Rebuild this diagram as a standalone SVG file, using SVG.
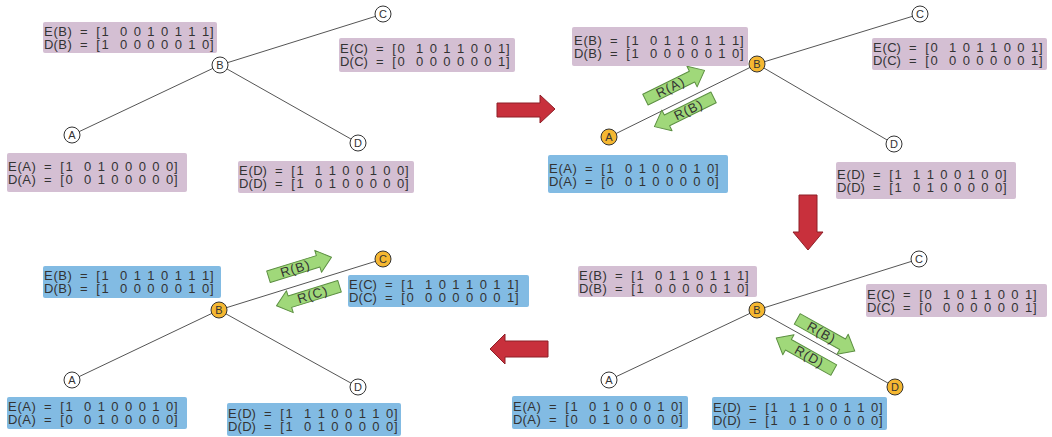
<svg xmlns="http://www.w3.org/2000/svg" width="1052" height="437" viewBox="0 0 1052 437">
<style>
.bg{fill:#ffffff}
.bp{fill:#d4bfd3}
.bb{fill:#82bbe3}
.t{font-family:"Liberation Sans",Arial,sans-serif;font-size:13px;fill:#333}
.node circle{fill:#fff;stroke:#333;stroke-width:1}
.node.on circle{fill:#f5b731}
.nl{font-family:"Liberation Sans",Arial,sans-serif;font-size:11px;text-anchor:middle;fill:#333}
.edge line{stroke:#555;stroke-width:1}
.ga use{fill:#a0d87a;stroke:#5c8f42;stroke-width:1;stroke-linejoin:round}
.ga text{font-family:"Liberation Sans",Arial,sans-serif;font-size:13px;fill:#333;letter-spacing:1px;text-anchor:middle}
.red{fill:#c8303c;stroke:#8e1f27;stroke-width:1;stroke-linejoin:round}
</style>
<defs>
<path id="ar" d="M-33,-6 H19 V-11.5 L33,0 L19,11.5 V6 H-33 Z"/>
<path id="al" d="M33,-6 H-19 V-11.5 L-33,0 L-19,11.5 V6 H33 Z"/>
</defs>
<rect class="bg" width="1052" height="437"/>

<g id="connectors">
<g class="edge">
<line x1="220" y1="65" x2="72" y2="135"/><line x1="220" y1="65" x2="383" y2="14"/><line x1="220" y1="65" x2="358" y2="143"/>
<line x1="757" y1="64" x2="609" y2="137"/><line x1="757" y1="64" x2="920" y2="14"/><line x1="757" y1="64" x2="894" y2="144"/>
<line x1="757" y1="310" x2="609" y2="380"/><line x1="757" y1="310" x2="919" y2="259"/><line x1="757" y1="310" x2="895" y2="387"/>
<line x1="219" y1="310" x2="72" y2="380"/><line x1="219" y1="310" x2="383" y2="259"/><line x1="219" y1="310" x2="358" y2="387"/>
</g>
<path class="red" d="M497,103 H540 V95 L555,109 L540,123 V117 H497 Z"/>
<path class="red" d="M799,195 V232 H793 L808,250 L823,232 H817 V195 Z"/>
<path class="red" d="M548,341 V357 H505 V364 L490,349 L505,334 V341 Z"/>
<g class="ga" transform="translate(675,85) rotate(-26.3)"><use href="#ar"/><text x="-5" y="4.5">R(A)</text></g>
<g class="ga" transform="translate(684,112) rotate(-26.3)"><use href="#al"/><text x="5" y="4.5">R(B)</text></g>
<g class="ga" transform="translate(826,335) rotate(29.2)"><use href="#ar"/><text x="-5" y="4.5">R(B)</text></g>
<g class="ga" transform="translate(805,354) rotate(29.2)"><use href="#al"/><text x="5" y="4.5">R(D)</text></g>
<g class="ga" transform="translate(300,267) rotate(-17.3)"><use href="#ar"/><text x="-5" y="4.5">R(B)</text></g>
<g class="ga" transform="translate(308,296) rotate(-17.3)"><use href="#al"/><text x="5" y="4.5">R(C)</text></g>
</g>

<!-- Panel 1 -->
<g id="p1-B" class="node"><g transform="translate(43,22)"><rect class="bp" width="174" height="31" rx="2"/><text class="t" x="1.1 10.5 15.2 24.6 30.2 37.05 44.3 53.15 58.4 68 77 84 90.7 97.5 104.3 111 118 125 131.7 138.5 145.3 152 159 167" y="13.5">E(B) = [1 0 0 1 0 1 1 1]</text><text class="t" x="1.1 10.5 15.2 24.6 30.2 37.05 44.3 53.15 58.4 68 77 84 90.7 97.5 104.3 111 118 125 131.7 138.5 145.3 152 159 167" y="26.5">D(B) = [1 0 0 0 0 0 1 0]</text></g><circle cx="220" cy="65" r="8"/><text class="nl" x="220" y="69">B</text></g>
<g id="p1-C" class="node"><g transform="translate(339,38)"><rect class="bp" width="176" height="34" rx="2"/><text class="t" x="1.1 10.5 15.2 24.6 30.2 37.05 44.3 53.15 58.4 68 77 84 90.7 97.5 104.3 111 118 125 131.7 138.5 145.3 152 159 167" y="15">E(C) = [0 1 0 1 1 0 0 1]</text><text class="t" x="1.1 10.5 15.2 24.6 30.2 37.05 44.3 53.15 58.4 68 77 84 90.7 97.5 104.3 111 118 125 131.7 138.5 145.3 152 159 167" y="28">D(C) = [0 0 0 0 0 0 0 1]</text></g><circle cx="383" cy="14" r="8"/><text class="nl" x="383" y="18">C</text></g>
<g id="p1-A" class="node"><g transform="translate(7,153)"><rect class="bp" width="180" height="39" rx="2"/><text class="t" x="1.1 10.5 15.2 24.6 30.2 37.05 44.3 53.15 58.4 68 77 84 90.7 97.5 104.3 111 118 125 131.7 138.5 145.3 152 159 167" y="18">E(A) = [1 0 1 0 0 0 0 0]</text><text class="t" x="1.1 10.5 15.2 24.6 30.2 37.05 44.3 53.15 58.4 68 77 84 90.7 97.5 104.3 111 118 125 131.7 138.5 145.3 152 159 167" y="31">D(A) = [0 0 1 0 0 0 0 0]</text></g><circle cx="72" cy="135" r="8"/><text class="nl" x="72" y="139">A</text></g>
<g id="p1-D" class="node"><g transform="translate(238,161)"><rect class="bp" width="176" height="32" rx="2"/><text class="t" x="1.1 10.5 15.2 24.6 30.2 37.05 44.3 53.15 58.4 68 77 84 90.7 97.5 104.3 111 118 125 131.7 138.5 145.3 152 159 167" y="14">E(D) = [1 1 1 0 0 1 0 0]</text><text class="t" x="1.1 10.5 15.2 24.6 30.2 37.05 44.3 53.15 58.4 68 77 84 90.7 97.5 104.3 111 118 125 131.7 138.5 145.3 152 159 167" y="27">D(D) = [1 0 1 0 0 0 0 0]</text></g><circle cx="358" cy="143" r="8"/><text class="nl" x="358" y="147">D</text></g>

<!-- Panel 2 -->
<g id="p2-B" class="node on"><g transform="translate(573,27)"><rect class="bp" x="-1" width="176" height="39" rx="2"/><text class="t" x="1.1 10.5 15.2 24.6 30.2 37.05 44.3 53.15 58.4 68 77 84 90.7 97.5 104.3 111 118 125 131.7 138.5 145.3 152 159 167" y="18">E(B) = [1 0 1 1 0 1 1 1]</text><text class="t" x="1.1 10.5 15.2 24.6 30.2 37.05 44.3 53.15 58.4 68 77 84 90.7 97.5 104.3 111 118 125 131.7 138.5 145.3 152 159 167" y="31">D(B) = [1 0 0 0 0 0 1 0]</text></g><circle cx="757" cy="64" r="8"/><text class="nl" x="757" y="68">B</text></g>
<g id="p2-C" class="node"><g transform="translate(872,38)"><rect class="bp" width="175" height="32" rx="2"/><text class="t" x="1.1 10.5 15.2 24.6 30.2 37.05 44.3 53.15 58.4 68 77 84 90.7 97.5 104.3 111 118 125 131.7 138.5 145.3 152 159 167" y="14">E(C) = [0 1 0 1 1 0 0 1]</text><text class="t" x="1.1 10.5 15.2 24.6 30.2 37.05 44.3 53.15 58.4 68 77 84 90.7 97.5 104.3 111 118 125 131.7 138.5 145.3 152 159 167" y="27">D(C) = [0 0 0 0 0 0 0 1]</text></g><circle cx="920" cy="14" r="8"/><text class="nl" x="920" y="18">C</text></g>
<g id="p2-A" class="node on"><g transform="translate(548,155)"><rect class="bb" width="180" height="38" rx="2"/><text class="t" x="1.1 10.5 15.2 24.6 30.2 37.05 44.3 53.15 58.4 68 77 84 90.7 97.5 104.3 111 118 125 131.7 138.5 145.3 152 159 167" y="17.5">E(A) = [1 0 1 0 0 0 1 0]</text><text class="t" x="1.1 10.5 15.2 24.6 30.2 37.05 44.3 53.15 58.4 68 77 84 90.7 97.5 104.3 111 118 125 131.7 138.5 145.3 152 159 167" y="30.5">D(A) = [0 0 1 0 0 0 0 0]</text></g><circle cx="609" cy="137" r="8"/><text class="nl" x="609" y="141">A</text></g>
<g id="p2-D" class="node"><g transform="translate(836,162)"><rect class="bp" width="180" height="37" rx="2"/><text class="t" x="1.1 10.5 15.2 24.6 30.2 37.05 44.3 53.15 58.4 68 77 84 90.7 97.5 104.3 111 118 125 131.7 138.5 145.3 152 159 167" y="16.5">E(D) = [1 1 1 0 0 1 0 0]</text><text class="t" x="1.1 10.5 15.2 24.6 30.2 37.05 44.3 53.15 58.4 68 77 84 90.7 97.5 104.3 111 118 125 131.7 138.5 145.3 152 159 167" y="29.5">D(D) = [1 0 1 0 0 0 0 0]</text></g><circle cx="894" cy="144" r="8"/><text class="nl" x="894" y="148">D</text></g>

<!-- Panel 3 -->
<g id="p3-B" class="node on"><g transform="translate(578,266)"><rect class="bp" width="179" height="31" rx="2"/><text class="t" x="1.1 10.5 15.2 24.6 30.2 37.05 44.3 53.15 58.4 68 77 84 90.7 97.5 104.3 111 118 125 131.7 138.5 145.3 152 159 167" y="13.5">E(B) = [1 0 1 1 0 1 1 1]</text><text class="t" x="1.1 10.5 15.2 24.6 30.2 37.05 44.3 53.15 58.4 68 77 84 90.7 97.5 104.3 111 118 125 131.7 138.5 145.3 152 159 167" y="26.5">D(B) = [1 0 0 0 0 0 1 0]</text></g><circle cx="757" cy="310" r="8"/><text class="nl" x="757" y="314">B</text></g>
<g id="p3-C" class="node"><g transform="translate(866,284)"><rect class="bp" width="181" height="33" rx="2"/><text class="t" x="1.1 10.5 15.2 24.6 30.2 37.05 44.3 53.15 58.4 68 77 84 90.7 97.5 104.3 111 118 125 131.7 138.5 145.3 152 159 167" y="14.5">E(C) = [0 1 0 1 1 0 0 1]</text><text class="t" x="1.1 10.5 15.2 24.6 30.2 37.05 44.3 53.15 58.4 68 77 84 90.7 97.5 104.3 111 118 125 131.7 138.5 145.3 152 159 167" y="27.5">D(C) = [0 0 0 0 0 0 0 1]</text></g><circle cx="919" cy="259" r="8"/><text class="nl" x="919" y="263">C</text></g>
<g id="p3-A" class="node"><g transform="translate(512,396)"><rect class="bb" width="176" height="33" rx="2"/><text class="t" x="1.1 10.5 15.2 24.6 30.2 37.05 44.3 53.15 58.4 68 77 84 90.7 97.5 104.3 111 118 125 131.7 138.5 145.3 152 159 167" y="14.5">E(A) = [1 0 1 0 0 0 1 0]</text><text class="t" x="1.1 10.5 15.2 24.6 30.2 37.05 44.3 53.15 58.4 68 77 84 90.7 97.5 104.3 111 118 125 131.7 138.5 145.3 152 159 167" y="27.5">D(A) = [0 0 1 0 0 0 0 0]</text></g><circle cx="609" cy="380" r="8"/><text class="nl" x="609" y="384">A</text></g>
<g id="p3-D" class="node on"><g transform="translate(712,397)"><rect class="bb" width="175" height="33" rx="2"/><text class="t" x="1.1 10.5 15.2 24.6 30.2 37.05 44.3 53.15 58.4 68 77 84 90.7 97.5 104.3 111 118 125 131.7 138.5 145.3 152 159 167" y="14.5">E(D) = [1 1 1 0 0 1 1 0]</text><text class="t" x="1.1 10.5 15.2 24.6 30.2 37.05 44.3 53.15 58.4 68 77 84 90.7 97.5 104.3 111 118 125 131.7 138.5 145.3 152 159 167" y="27.5">D(D) = [1 0 1 0 0 0 0 0]</text></g><circle cx="895" cy="387" r="8"/><text class="nl" x="895" y="391">D</text></g>

<!-- Panel 4 -->
<g id="p4-B" class="node on"><g transform="translate(43,266)"><rect class="bb" width="178" height="32" rx="2"/><text class="t" x="1.1 10.5 15.2 24.6 30.2 37.05 44.3 53.15 58.4 68 77 84 90.7 97.5 104.3 111 118 125 131.7 138.5 145.3 152 159 167" y="14">E(B) = [1 0 1 1 0 1 1 1]</text><text class="t" x="1.1 10.5 15.2 24.6 30.2 37.05 44.3 53.15 58.4 68 77 84 90.7 97.5 104.3 111 118 125 131.7 138.5 145.3 152 159 167" y="27">D(B) = [1 0 0 0 0 0 1 0]</text></g><circle cx="219" cy="310" r="8"/><text class="nl" x="219" y="314">B</text></g>
<g id="p4-C" class="node on"><g transform="translate(348,275)"><rect class="bb" width="181" height="32" rx="2"/><text class="t" x="1.1 10.5 15.2 24.6 30.2 37.05 44.3 53.15 58.4 68 77 84 90.7 97.5 104.3 111 118 125 131.7 138.5 145.3 152 159 167" y="14">E(C) = [1 1 0 1 1 0 1 1]</text><text class="t" x="1.1 10.5 15.2 24.6 30.2 37.05 44.3 53.15 58.4 68 77 84 90.7 97.5 104.3 111 118 125 131.7 138.5 145.3 152 159 167" y="27">D(C) = [0 0 0 0 0 0 0 1]</text></g><circle cx="383" cy="259" r="8"/><text class="nl" x="383" y="263">C</text></g>
<g id="p4-A" class="node"><g transform="translate(7,397)"><rect class="bb" width="180" height="32" rx="2"/><text class="t" x="1.1 10.5 15.2 24.6 30.2 37.05 44.3 53.15 58.4 68 77 84 90.7 97.5 104.3 111 118 125 131.7 138.5 145.3 152 159 167" y="14">E(A) = [1 0 1 0 0 0 1 0]</text><text class="t" x="1.1 10.5 15.2 24.6 30.2 37.05 44.3 53.15 58.4 68 77 84 90.7 97.5 104.3 111 118 125 131.7 138.5 145.3 152 159 167" y="27">D(A) = [0 0 1 0 0 0 0 0]</text></g><circle cx="72" cy="380" r="8"/><text class="nl" x="72" y="384">A</text></g>
<g id="p4-D" class="node"><g transform="translate(227,403)"><rect class="bb" width="174" height="33" rx="2"/><text class="t" x="1.1 10.5 15.2 24.6 30.2 37.05 44.3 53.15 58.4 68 77 84 90.7 97.5 104.3 111 118 125 131.7 138.5 145.3 152 159 167" y="14.5">E(D) = [1 1 1 0 0 1 1 0]</text><text class="t" x="1.1 10.5 15.2 24.6 30.2 37.05 44.3 53.15 58.4 68 77 84 90.7 97.5 104.3 111 118 125 131.7 138.5 145.3 152 159 167" y="27.5">D(D) = [1 0 1 0 0 0 0 0]</text></g><circle cx="358" cy="387" r="8"/><text class="nl" x="358" y="391">D</text></g>
</svg>
